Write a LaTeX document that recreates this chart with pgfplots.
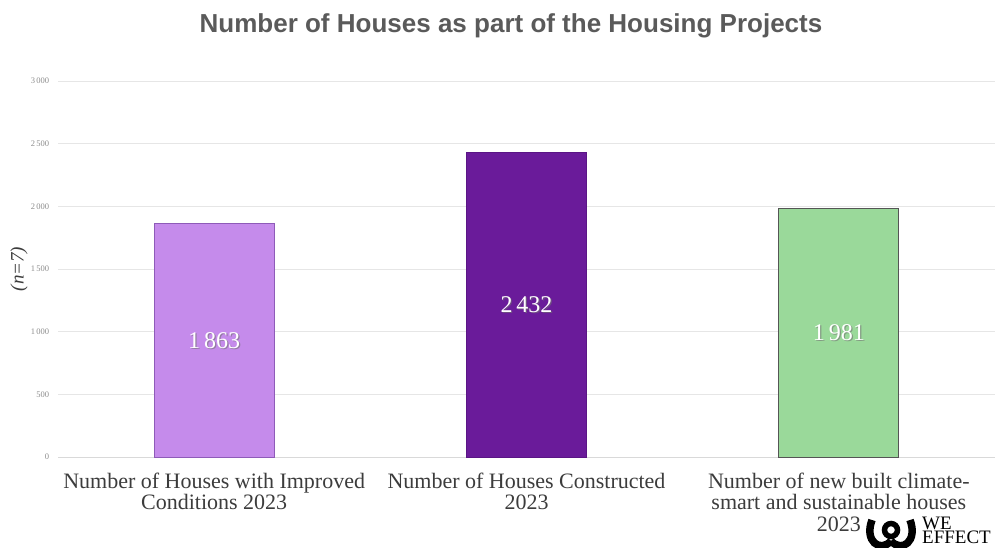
\documentclass[border=0pt]{standalone}
\usepackage{pgfplots}
\pgfplotsset{compat=1.18}
\usepackage{fontspec}
\setmainfont{Liberation Serif}
\newfontfamily\titlefont{Liberation Sans}
\definecolor{titlegray}{HTML}{5A5A5A}
\definecolor{labgray}{HTML}{3C3C3C}
\definecolor{tickgray}{HTML}{8C8C8C}
\definecolor{gridgray}{HTML}{E6E6E6}
\definecolor{axisgray}{HTML}{D9D9D9}
\definecolor{barA}{HTML}{C58BEB}
\definecolor{barAedge}{HTML}{8E5BB8}
\definecolor{barB}{HTML}{6A1B9A}
\definecolor{barBedge}{HTML}{5A1585}
\definecolor{barC}{HTML}{9AD99A}
\definecolor{barCedge}{HTML}{555555}
\begin{document}
\begin{tikzpicture}[x=1pt,y=1pt]
\useasboundingbox (0,0) rectangle (995,547);
\begin{axis}[
  at={(58pt,90pt)}, anchor=south west,
  scale only axis, width=937pt, height=376pt,
  xmin=-0.5, xmax=2.5, ymin=0, ymax=3000,
  axis lines*=left, separate axis lines,
  y axis line style={draw=none},
  x axis line style={draw=axisgray, line width=0.8pt},
  xtick={0,1,2},
  xticklabels={{Number of Houses with Improved\\Conditions 2023},{Number of Houses Constructed\\2023},{Number of new built climate-\\smart and sustainable houses\\2023}},
  xticklabel style={align=center, font=\fontsize{22}{21.5}\selectfont, text=labgray, yshift=-8pt},
  xtick style={draw=none},
  minor xtick={-0.5,0.5,1.5},
  minor tick length=7pt, tick align=outside,
  minor tick style={draw=axisgray, line width=0.6pt},
  ytick={0,500,...,3000},
  ytick style={draw=none},
  yticklabel style={font=\fontsize{8.5}{9}\selectfont, text=tickgray, xshift=-1pt},
  /pgf/number format/assume math mode=true,
  /pgf/number format/1000 sep={\,},
  ymajorgrids, grid style={draw=gridgray, line width=0.7pt},
  ylabel={\textit{(n=7)}},
  every axis y label/.style={at={(axis description cs:0,0.5)}, xshift=-39pt, rotate=90, anchor=center, font=\fontsize{19}{22}\selectfont, text=labgray},
  clip=false,
]
\addplot[ybar, bar width=120pt, bar shift=0pt, fill=barA, draw=barAedge, line width=0.7pt] coordinates {(0,1863)};
\addplot[ybar, bar width=120pt, bar shift=0pt, fill=barB, draw=barBedge, line width=0.7pt] coordinates {(1,2432)};
\addplot[ybar, bar width=120pt, bar shift=0pt, fill=barC, draw=barCedge, line width=0.7pt] coordinates {(2,1981)};
% label shadows
\addplot[draw=none, mark=none, nodes near coords, point meta=explicit symbolic,
  nodes near coords style={anchor=center, text=black!55, opacity=0.6, font=\fontsize{24}{26}\selectfont, xshift=1.2pt, yshift=-1.2pt}]
  coordinates {(0,931.5) [1\,863] (1,1216) [2\,432] (2,990.5) [1\,981]};
\addplot[draw=none, mark=none, nodes near coords, point meta=explicit symbolic,
  nodes near coords style={anchor=center, text=white, font=\fontsize{24}{26}\selectfont}]
  coordinates {(0,931.5) [1\,863] (1,1216) [2\,432] (2,990.5) [1\,981]};
\end{axis}
\node[anchor=base, font=\titlefont\bfseries\fontsize{26}{30}\selectfont, text=titlegray] at (511,514) {Number of Houses as part of the Housing Projects};
% logo
\draw[line width=7.5pt, black] (872,27) .. controls (864,6) and (880,-6) .. (891,6);
\draw[line width=7.5pt, black] (910,27) .. controls (918,6) and (902,-6) .. (891,6);
\draw[line width=5.5pt, black] (891,17) circle (6.5);
\node[anchor=north west, align=left, inner sep=0pt, font=\fontsize{19}{14}\selectfont, text=black] at (922,30) {WE\\EFFECT};
\end{tikzpicture}
\end{document}
